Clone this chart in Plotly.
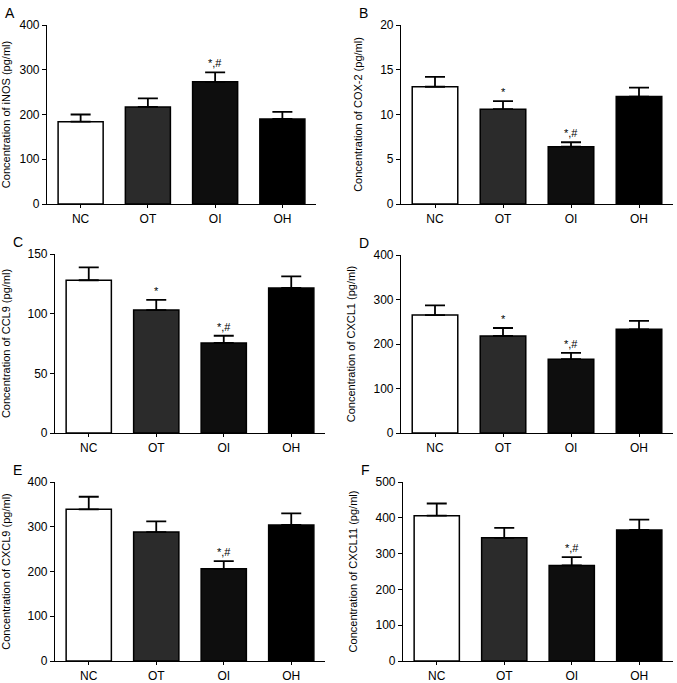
import plotly.graph_objects as go

W, H = 677, 683

groups = ['NC', 'OT', 'OI', 'OH']
bar_colors = ['#ffffff', '#2b2b2b', '#0e0e0e', '#000000']

panel_letters = ['A', 'B', 'C', 'D', 'E', 'F']
y_titles = ['Concentration of iNOS (pg/ml)', 'Concentration of COX-2 (pg/ml)',
            'Concentration of CCL9 (pg/ml)', 'Concentration of CXCL1 (pg/ml)',
            'Concentration of CXCL9 (pg/ml)', 'Concentration of CXCL11 (pg/ml)']

inos_mean = [184, 217, 273, 190]
inos_err = [16, 19, 21, 16]
cox2_mean = [13.1, 10.6, 6.4, 12.0]
cox2_err = [1.1, 0.9, 0.5, 1.0]
ccl9_mean = [128, 103, 75.5, 121.5]
ccl9_err = [10.8, 8.5, 6, 9.8]
cxcl1_mean = [265, 218, 166, 233]
cxcl1_err = [22, 18, 14, 19]
cxcl9_mean = [339, 288, 206, 304]
cxcl9_err = [28, 24, 17, 26]
cxcl11_mean = [406, 344, 267, 366]
cxcl11_err = [34, 28, 23, 29]

means = [inos_mean, cox2_mean, ccl9_mean, cxcl1_mean, cxcl9_mean, cxcl11_mean]
errs = [inos_err, cox2_err, ccl9_err, cxcl1_err, cxcl9_err, cxcl11_err]

y_max = [400, 20, 150, 400, 400, 500]
y_dtick = [100, 5, 50, 100, 100, 100]

# significance marks per panel
sig_marks = [
    ['', '', '*,#', ''],
    ['', '*', '*,#', ''],
    ['', '*', '*,#', ''],
    ['', '*', '*,#', ''],
    ['', '', '*,#', ''],
    ['', '', '*,#', ''],
]

# plot boxes in pixels: (left, right, top, bottom)
boxes = [
    (47, 316, 25, 204), (401, 673, 25, 204),
    (55, 325, 254, 433), (401, 673, 255, 433),
    (55, 325, 482, 661), (403, 673, 482, 661),
]

font = 'Liberation Sans, Arial, sans-serif'

fig = go.Figure()
annotations = []

for i in range(6):
    xa = 'x' if i == 0 else f'x{i + 1}'
    ya = 'y' if i == 0 else f'y{i + 1}'
    left, right, top, bottom = boxes[i]

    fig.add_trace(go.Bar(
        x=groups, y=means[i], xaxis=xa, yaxis=ya,
        marker=dict(color=bar_colors, line=dict(color='black', width=1.5)),
        width=0.67,
        error_y=dict(type='data', symmetric=False, array=errs[i],
                     arrayminus=[0] * 4, color='black', thickness=1.8, width=10),
        showlegend=False,
    ))

    axis_suffix = '' if i == 0 else str(i + 1)
    fig.layout['xaxis' + axis_suffix] = dict(
        domain=[left / W, right / W], anchor=ya, automargin=False,
        range=[-0.5, 3.5], showline=True, linecolor='black', linewidth=1.2,
        ticks='outside', ticklen=3, tickwidth=1, tickcolor='black',
        tickfont=dict(family=font, size=12, color='black'),
        showgrid=False, zeroline=False,
    )
    fig.layout['yaxis' + axis_suffix] = dict(
        domain=[1 - bottom / H, 1 - top / H], anchor=xa, automargin=False,
        range=[0, y_max[i]], dtick=y_dtick[i],
        showline=True, linecolor='black', linewidth=1.2,
        ticks='outside', ticklen=4, tickwidth=1, tickcolor='black',
        tickfont=dict(family=font, size=12, color='black'),
        title=dict(text=y_titles[i], font=dict(family=font, size=11, color='black')),
        showgrid=False, zeroline=False,
    )

    # panel letter
    annotations.append(dict(
        text=panel_letters[i], xref='paper', yref='paper',
        x=(left - 44) / W, y=1 - (top - 12) / H,
        xanchor='left', yanchor='middle', showarrow=False,
        font=dict(family=font, size=14, color='black'),
    ))

    for g, mark, m, e in zip(groups, sig_marks[i], means[i], errs[i]):
        if mark:
            annotations.append(dict(
                text=mark, x=g, y=m + e, xref=xa, yref=ya,
                xanchor='center', yanchor='bottom', yshift=1, showarrow=False,
                font=dict(family=font, size=11, color='black'),
            ))

fig.update_layout(
    width=W, height=H,
    margin=dict(l=0, r=0, t=0, b=0),
    plot_bgcolor='white', paper_bgcolor='white',
    annotations=annotations,
    bargap=0.33,
)

# drop the default page margin so the figure sits at the window corner
fig.write_html('out.html', config={'displayModeBar': False},
               post_script="document.body.style.margin='0';")
